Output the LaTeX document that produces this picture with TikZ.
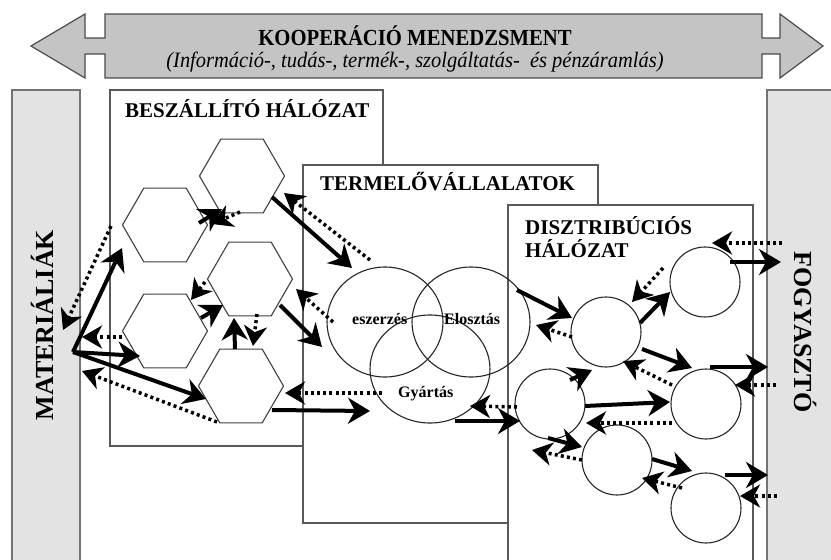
\documentclass[tikz,border=0pt]{standalone}
\usepackage{fontspec}
\setmainfont{Liberation Serif}
\usetikzlibrary{arrows.meta,shapes.geometric,calc}
\tikzset{
  boxframe/.style={draw=black!65, line width=1.3pt, fill=white},
  sidebar/.style={draw=black!55, line width=1.6pt, fill=black!11},
  hexa/.style={regular polygon, regular polygon sides=6, minimum size=85pt, inner sep=0pt, draw=black!75, line width=1.1pt},
  venn/.style={ellipse, draw=black!85, line width=1.1pt, inner sep=0pt},
  dcirc/.style={circle, minimum size=70pt, inner sep=0pt, draw=black!85, line width=1.1pt},
  sarr/.style={line width=4pt, -{Stealth[length=22pt,width=26pt,inset=7pt]}},
  darr/.style={line width=3.5pt, dash pattern=on 3pt off 3.2pt, -{Stealth[length=20pt,width=23pt,inset=6pt]}},
  boxlabel/.style={font=\bfseries\fontsize{21}{23}\selectfont, anchor=base west, inner sep=0pt},
  vennlabel/.style={font=\bfseries\fontsize{16}{19}\selectfont, anchor=base west, inner sep=0pt},
  sidelabel/.style={font=\bfseries\fontsize{26}{30}\selectfont, inner sep=0pt},
}
\begin{document}
\begin{tikzpicture}[x=1pt,y=-1pt]
\useasboundingbox (0,0) rectangle (831,560);
\clip (0,0) rectangle (831,560);
% top double arrow
\draw[line width=1.2pt, draw=black!70, fill=black!23]
  (31,46) -- (85,14) -- (85,38) -- (105,38) -- (105,14) -- (762,14) -- (762,38) -- (780,38) -- (780,14)
  -- (823,46) -- (780,78) -- (780,54) -- (762,54) -- (762,78) -- (105,78) -- (105,54) -- (85,54) -- (85,78) -- cycle;
\node[font=\bfseries\fontsize{23}{26}\selectfont, anchor=base, inner sep=0pt] (title) at (415,45) {\scalebox{0.9}[1]{KOOPERÁCIÓ MENEDZSMENT}};
\node[font=\itshape\fontsize{22}{25}\selectfont, anchor=base, inner sep=0pt] (sub) at (415,67) {\scalebox{0.93}[1]{(Információ-, tudás-, termék-, szolgáltatás-\ \ és pénzáramlás)}};
% side bars
\draw[sidebar] (12,90) rectangle (80,575);
\draw[sidebar] (767,90) rectangle (845,575);
\node[sidelabel, rotate=90] (mat) at (42,325) {MATERIÁLIÁK};
\node[sidelabel, rotate=-90] (fogy) at (806,332) {FOGYASZTÓ};
% boxes
\draw[boxframe] (110,90) rectangle (383,446);
\draw[boxframe] (303,165) rectangle (598,523);
\draw[boxframe] (508,205) rectangle (753,575);
\node[boxlabel] (lb1) at (125,117) {BESZÁLLÍTÓ HÁLÓZAT};
\node[boxlabel] (lb2) at (320,190) {TERMELŐVÁLLALATOK};
\node[boxlabel] (lb3) at (525,234) {DISZTRIBÚCIÓS};
\node[boxlabel] (lb4) at (525,257) {HÁLÓZAT};
% hexagons
\node[hexa] (h1) at (242,176) {};
\node[hexa] (h2) at (165,225) {};
\node[hexa] (h3) at (250,279) {};
\node[hexa] (h4) at (165,331) {};
\node[hexa] (h5) at (241,386) {};
% venn
\node[venn, minimum width=116pt, minimum height=110pt] (bes) at (385,322) {};
\node[venn, minimum width=118pt, minimum height=110pt] (elo) at (471,322) {};
\node[venn, minimum width=120pt, minimum height=108pt] (gya) at (430,369) {};
\node[vennlabel] (tb) at (352,324) {eszerzés};
\node[vennlabel] (te) at (444,324) {Elosztás};
\node[vennlabel] (tg) at (398,397) {Gyártás};
% circles
\node[dcirc] (c1) at (705,282) {};
\node[dcirc] (c2) at (606,332) {};
\node[dcirc] (c3) at (550,404) {};
\node[dcirc] (c4) at (706,404) {};
\node[dcirc] (c5) at (617,460) {};
\node[dcirc] (c6) at (706,508) {};
% free ends
\coordinate (hub) at (73,352);
\coordinate (m1) at (63,330);
\coordinate (m2) at (82,337);
\coordinate (m3) at (82,371);
\coordinate (f1) at (781,262);
\coordinate (f2) at (782,243);
\coordinate (f3) at (768,367);
\coordinate (f4) at (776,385);
\coordinate (f5) at (768,475);
\coordinate (f6) at (777,496);
% arrows: materials
\draw[sarr] (hub) -- ($(h2)+(-43,23)$);
\draw[sarr] (hub) -- ($(h4)+(-25,25)$);
\draw[sarr] (hub) -- ($(h5)+(-35,13)$);
\draw[darr] ($(h2)+(-54,1)$) -- (m1);
\draw[darr] ($(h4)+(-43,6)$) -- (m2);
\draw[darr] ($(h5)+(-24,36)$) -- (m3);
% between hexagons
\draw[sarr] ($(h2)+(34,-2)$) -- ($(h1)+(-20,33)$);
\draw[darr] ($(h1)+(-2,36)$) -- ($(h2)+(47,-1)$);
\draw[darr] ($(h3)+(-45,3)$) -- ($(h4)+(26,-31)$);
\draw[sarr] ($(h4)+(36,-13)$) -- ($(h3)+(-27,26)$);
\draw[sarr] ($(h5)+(-6,-37)$) -- ($(h3)+(-16,39)$);
\draw[darr] ($(h3)+(7,35)$) -- ($(h5)+(12,-40)$);
% hexagons - producers
\draw[sarr] ($(h1)+(30,21)$) -- ($(bes)+(-33,-54)$);
\draw[darr] ($(bes)+(-15,-62)$) -- ($(h1)+(42,17)$);
\draw[sarr] ($(h3)+(30,26)$) -- ($(bes)+(-63,25)$);
\draw[darr] ($(bes)+(-52,0)$) -- ($(h3)+(46,10)$);
\draw[darr] ($(gya)+(-48,24)$) -- ($(h5)+(44,7)$);
\draw[sarr] ($(h5)+(31,24)$) -- ($(gya)+(-60,42)$);
% producers - distribution
\draw[sarr] ($(elo)+(46,-32)$) -- ($(c2)+(-34,-14)$);
\draw[darr] ($(c2)+(-34,5)$) -- ($(elo)+(65,3)$);
\draw[darr] ($(c3)+(-33,3)$) -- ($(gya)+(40,37)$);
\draw[sarr] ($(gya)+(25,52)$) -- ($(c3)+(-30,17)$);
% distribution
\draw[sarr] ($(c2)+(34,-9)$) -- ($(c1)+(-35,10)$);
\draw[darr] ($(c1)+(-42,-14)$) -- ($(c2)+(26,-30)$);
\draw[sarr] ($(c1)+(25,-20)$) -- (f1);
\draw[darr] (f2) -- ($(c1)+(7,-39)$);
\draw[sarr] ($(c2)+(36,17)$) -- ($(c4)+(-14,-36)$);
\draw[darr] ($(c4)+(-34,-19)$) -- ($(c2)+(17,29)$);
\draw[sarr] ($(c4)+(4,-37)$) -- (f3);
\draw[darr] (f4) -- ($(c4)+(29,-19)$);
\draw[sarr] ($(c3)+(20,-24)$) -- ($(c2)+(-14,38)$);
\draw[sarr] ($(c3)+(35,2)$) -- ($(c4)+(-36,-2)$);
\draw[darr] ($(c4)+(-34,19)$) -- ($(c3)+(36,19)$);
\draw[sarr] ($(c3)+(-2,34)$) -- ($(c5)+(-35,-13)$);
\draw[darr] ($(c5)+(-35,0)$) -- ($(c3)+(-18,46)$);
\draw[sarr] ($(c5)+(35,-1)$) -- ($(c6)+(-14,-37)$);
\draw[darr] ($(c6)+(-24,-20)$) -- ($(c5)+(25,18)$);
\draw[sarr] ($(c6)+(19,-33)$) -- (f5);
\draw[darr] (f6) -- ($(c6)+(34,-12)$);
\end{tikzpicture}
\end{document}
